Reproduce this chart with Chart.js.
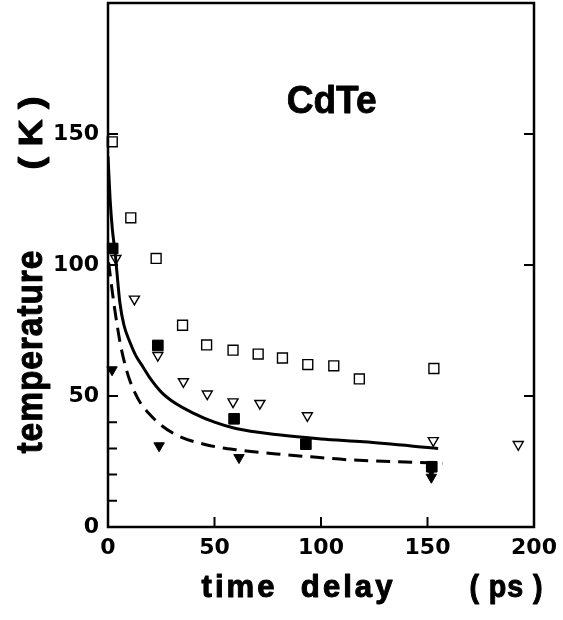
<!DOCTYPE html>
<html>
<head>
<meta charset="utf-8">
<script src="https://cdn.jsdelivr.net/npm/chart.js@4/dist/chart.umd.min.js"></script>
<style>
    html, body { margin: 0; padding: 0; background: #fff; }
    #graph { display: block; }
</style>
</head>
<body>
<canvas id="graph" width="563" height="620"></canvas>
<script>
// measured points: time delay (ps) against temperature (K)
const openSquareX = [2.0, 10.7, 22.6, 35.0, 46.3, 58.7, 70.5, 81.9, 93.8, 106, 118, 153];
const openSquareY = [147, 118, 102.5, 77, 69.5, 67.5, 66, 64.5, 62, 61.5, 56.5, 60.5];

const openTriangleX = [3.7, 12.4, 23.4, 35.4, 46.6, 58.7, 71.3, 93.6, 152.7, 192.6];
const openTriangleY = [102.5, 87, 65.5, 55.5, 50.8, 47.8, 47.2, 42.5, 33, 31.5];

const fullSquareX = [2.2, 23.4, 59.2, 92.9, 152];
const fullSquareY = [106.3, 69.3, 41.3, 31.6, 23];

const fullTriangleX = [1.9, 24.0, 61.5, 151.8, 151.8];
const fullTriangleY = [60, 31, 26.5, 21.5, 19];

// the two model curves
const solidCurveX = [0, 1, 2, 3.3, 5.6, 7.5, 10.3, 13, 16.5, 20, 25, 32, 40, 50, 60, 80, 100, 120, 155];
const solidCurveY = [141.5, 125, 114, 105, 85.5, 77, 70.5, 65.5, 61, 56.5, 51.5, 47, 43.5, 40, 37.6, 35.2, 33.6, 32.5, 30];

const dashedCurveX = [0.3, 1.5, 3, 4.5, 6, 8, 10, 12.5, 15.5, 19, 25, 33, 46, 61, 79, 98, 112, 143, 157];
const dashedCurveY = [101, 93, 84, 76, 69, 62, 56.5, 51.5, 47, 43.5, 38.8, 34.8, 31.4, 29.4, 27.9, 26.6, 25.7, 24.7, 24.3];

// axis ticks
const xTicks = [0, 50, 100, 150, 200];
const yTicks = [0, 50, 100, 150];
const yMinorTicks = [10, 20, 30, 40];

const tickFont = { family: "'DejaVu Sans', sans-serif", size: 22, weight: "bold" };
const titleFont = "'Liberation Sans', Arial, sans-serif";

function toPoints(xs, ys) {
    return xs.map((x, i) => ({ x: x, y: ys[i] }));
}

// draw text squeezed / stretched to a given width, with an outline to make it heavier
function fitText(ctx, text, x, y, width, font, angle, spacing, heavy) {
    ctx.save();
    ctx.font = font;
    ctx.letterSpacing = (spacing || 0) + "px";
    const w = ctx.measureText(text).width - (spacing || 0);
    ctx.translate(x, y);
    if (angle) ctx.rotate(angle);
    ctx.scale(width / w, 1);
    ctx.textAlign = "left";
    ctx.textBaseline = "alphabetic";
    ctx.fillStyle = "#000";
    ctx.fillText(text, -w / 2, 0);
    if (heavy) {
        ctx.strokeStyle = "#000";
        ctx.lineWidth = heavy;
        ctx.lineJoin = "round";
        ctx.strokeText(text, -w / 2, 0);
    }
    ctx.restore();
}

// white background, box frame, inward ticks and the titles
const framePlugin = {
    id: "frame",
    beforeDraw(chart) {
        const ctx = chart.ctx;
        ctx.save();
        ctx.fillStyle = "#fff";
        ctx.fillRect(0, 0, chart.width, chart.height);
        ctx.restore();
    },
    afterDraw(chart) {
        const ctx = chart.ctx, a = chart.chartArea;
        const xs = chart.scales.x, ys = chart.scales.y;
        ctx.save();
        ctx.strokeStyle = "#000";
        ctx.lineWidth = 2.5;
        ctx.strokeRect(a.left, a.top, a.right - a.left, a.bottom - a.top);

        ctx.lineWidth = 2;
        ctx.beginPath();
        yTicks.forEach(v => {
            const py = ys.getPixelForValue(v);
            ctx.moveTo(a.left, py); ctx.lineTo(a.left + 10, py);
            ctx.moveTo(a.right, py); ctx.lineTo(a.right - 10, py);
        });
        yMinorTicks.forEach(v => {
            const py = ys.getPixelForValue(v);
            ctx.moveTo(a.left, py); ctx.lineTo(a.left + 9, py);
        });
        xTicks.slice(1, -1).forEach(v => {
            const px = xs.getPixelForValue(v);
            ctx.moveTo(px, a.bottom); ctx.lineTo(px, a.bottom - 10);
        });
        ctx.stroke();
        ctx.restore();

        // sample label inside the plot
        fitText(ctx, "CdTe", xs.getPixelForValue(105), ys.getPixelForValue(158), 90,
            "bold 38px " + titleFont, 0, 0, 0.8);

        // axis titles
        fitText(ctx, "time  delay", 297, 597, 191, "bold 31px " + titleFont, 0, 3, 1);
        fitText(ctx, "( ps )", 506, 597, 73, "bold 31px " + titleFont, 0, 1, 1);
        fitText(ctx, "temperature", 42, 352, 203, "bold 37px " + titleFont, -Math.PI / 2, 1, 1);
        fitText(ctx, "( K )", 42, 133, 73, "900 34px " + titleFont, -Math.PI / 2, 0, 1);
    }
};

const data = {
    datasets: [
        {
            label: "model",
            data: toPoints(solidCurveX, solidCurveY),
            showLine: true,
            borderColor: "#000",
            borderWidth: 3,
            pointRadius: 0,
            cubicInterpolationMode: "monotone",
            fill: false
        },
        {
            label: "model (dashed)",
            data: toPoints(dashedCurveX, dashedCurveY),
            showLine: true,
            borderColor: "#000",
            borderWidth: 3,
            borderDash: [14, 8],
            pointRadius: 0,
            cubicInterpolationMode: "monotone",
            fill: false
        },
        {
            label: "open squares",
            data: toPoints(openSquareX, openSquareY),
            pointStyle: "rect",
            pointRadius: 7,
            borderWidth: 1.4,
            borderColor: "#000",
            backgroundColor: "#fff",
            clip: false
        },
        {
            label: "open triangles",
            data: toPoints(openTriangleX, openTriangleY),
            pointStyle: "triangle",
            rotation: 180,
            pointRadius: 5.8,
            borderWidth: 1.4,
            borderColor: "#000",
            backgroundColor: "#fff",
            clip: false
        },
        {
            label: "full squares",
            data: toPoints(fullSquareX, fullSquareY),
            pointStyle: "rect",
            pointRadius: 7.5,
            borderWidth: 1,
            borderColor: "#000",
            backgroundColor: "#000",
            clip: false
        },
        {
            label: "full triangles",
            data: toPoints(fullTriangleX, fullTriangleY),
            pointStyle: "triangle",
            rotation: 180,
            pointRadius: 6,
            borderWidth: 1,
            borderColor: "#000",
            backgroundColor: "#000",
            clip: false
        }
    ]
};

// the tick labels must not push the plot box inwards
function noLabelPadding(s) {
    s.paddingTop = 0;
    s.paddingBottom = 0;
    s.paddingLeft = 0;
    s.paddingRight = 0;
}

const config = {
    type: "scatter",
    data: data,
    options: {
        responsive: false,
        animation: false,
        layout: { autoPadding: false, padding: { top: 3, right: 29, left: 0, bottom: 0 } },
        plugins: { legend: { display: false }, tooltip: { enabled: false } },
        scales: {
            x: {
                type: "linear",
                min: 0, max: 200,
                grid: { display: false, drawTicks: false },
                border: { display: false },
                afterBuildTicks: s => { s.ticks = xTicks.map(v => ({ value: v })); },
                afterFit: s => { s.height = 93; noLabelPadding(s); },
                ticks: { padding: 8, color: "#000", font: tickFont, maxRotation: 0 }
            },
            y: {
                type: "linear",
                min: 0, max: 200,
                grid: { display: false, drawTicks: false },
                border: { display: false },
                afterBuildTicks: s => { s.ticks = yTicks.map(v => ({ value: v })); },
                afterFit: s => { s.width = 108; noLabelPadding(s); },
                ticks: { padding: 9, color: "#000", font: tickFont }
            }
        }
    },
    plugins: [framePlugin]
};

let chart = new Chart(document.getElementById("graph").getContext("2d"), config);
</script>
</body>
</html>
